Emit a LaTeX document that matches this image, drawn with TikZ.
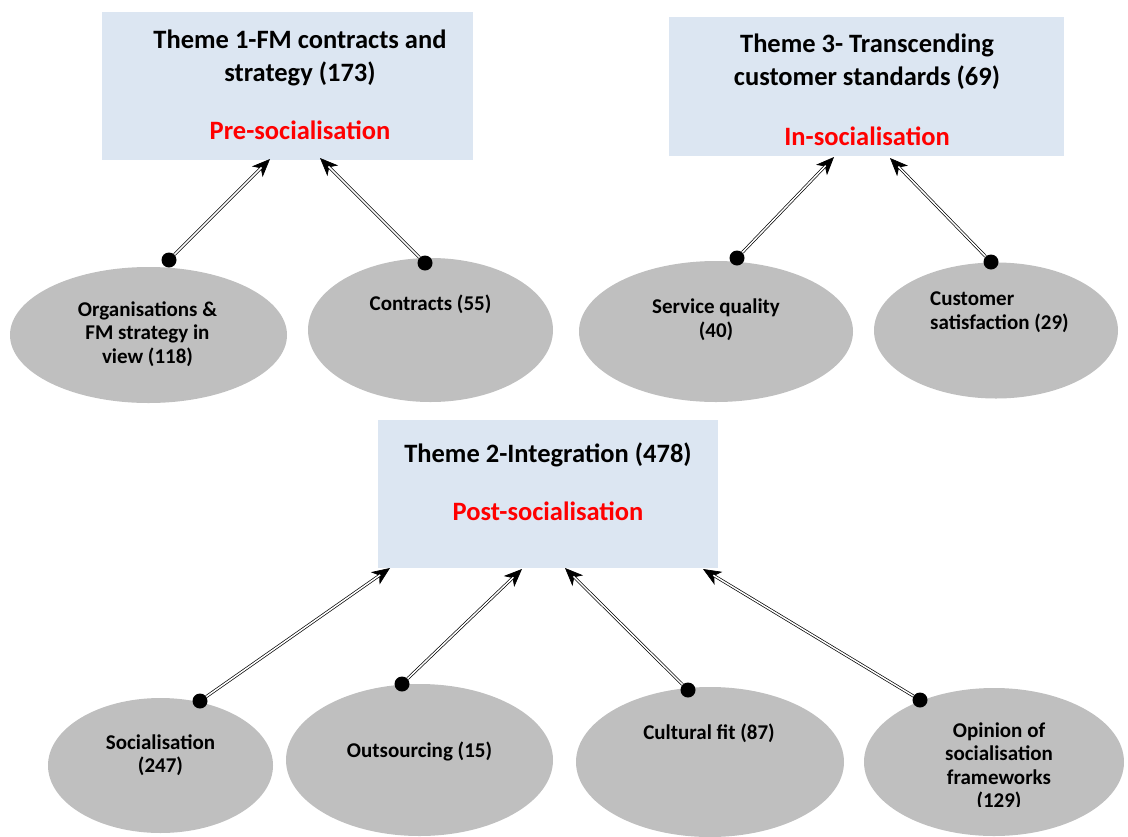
\documentclass[tikz,border=0pt]{standalone}
\usepackage{fontspec}
\setmainfont{Carlito}
\usetikzlibrary{arrows.meta,shapes.geometric}
\definecolor{themefill}{HTML}{DCE6F2}
\definecolor{subfill}{HTML}{BFBFBF}
\definecolor{phasered}{HTML}{FF0000}
\begin{document}
\begin{tikzpicture}[x=1pt,y=-1pt,
  themebox/.style={rectangle, fill=themefill, draw=none, inner sep=0pt},
  subtheme/.style={ellipse, fill=subfill, draw=none, inner sep=0pt},
  % multi-line texts are placed by the baseline of their last line
  themetext/.style={anchor=base, inner sep=0pt, align=center,
    font=\fontsize{26.5}{33}\selectfont\bfseries},
  phasetext/.style={themetext, text=phasered},
  subtext/.style={anchor=base, inner sep=0pt, align=center,
    font=\fontsize{21}{23.5}\selectfont\bfseries},
  dotnode/.style={circle, fill=black, minimum size=15pt, inner sep=0pt},
  % solid arrow head underneath, hollow double shaft on top
  linktip/.style={draw=black, line width=0.7pt,
    -{Stealth[length=18pt, width=15pt, inset=5pt]}},
  link/.style={draw=black, line width=0.7pt, double=white, double distance=1.5pt,
    shorten >=12pt}]
\useasboundingbox (0,0) rectangle (1128,836);
\clip (0,0) rectangle (1128,836);

% theme boxes
\node[themebox, minimum width=371pt, minimum height=148pt] (th1) at (287.5,86) {};
\node[themebox, minimum width=395pt, minimum height=139pt] (th3) at (866.5,86.5) {};
\node[themebox, minimum width=340pt, minimum height=148pt] (th2) at (548,494) {};

\node[themetext] (th1t) at (300,81.5) {Theme 1-FM contracts and\\strategy (173)};
\node[phasetext] (th1p) at (300,139.5) {Pre-socialisation};
\node[themetext] (th3t) at (867,85.5) {Theme 3- Transcending\\customer standards (69)};
\node[phasetext] (th3p) at (867,145.5) {In-socialisation};
\node[themetext] (th2t) at (548,462) {Theme 2-Integration (478)};
\node[phasetext] (th2p) at (548,520) {Post-socialisation};

% sub-theme ellipses
\node[subtheme, minimum width=277pt, minimum height=136pt] (s1) at (148.5,335) {};
\node[subtheme, minimum width=245pt, minimum height=144pt] (s2) at (430.5,330) {};
\node[subtheme, minimum width=274pt, minimum height=141pt] (s3) at (716,331.5) {};
\node[subtheme, minimum width=244pt, minimum height=136pt] (s4) at (996,330.5) {};
\node[subtheme, minimum width=225pt, minimum height=135pt] (s5) at (160.5,765.5) {};
\node[subtheme, minimum width=267pt, minimum height=152pt] (s6) at (419.5,760) {};
\node[subtheme, minimum width=268pt, minimum height=150pt] (s7) at (710,762) {};
\node[subtheme, minimum width=260pt, minimum height=148pt] (s8) at (994,762) {};

\node[subtext] (s1t) at (147.5,363) {Organisations \&\\FM strategy in\\view (118)};
\node[subtext] (s2t) at (430.5,310) {Contracts (55)};
\node[subtext] (s3t) at (716,337) {Service quality\\(40)};
\node[subtext, align=left, anchor=base west] (s4t) at (930,329) {Customer\\satisfaction (29)};
\node[subtext] (s5t) at (160.5,772.5) {Socialisation\\(247)};
\node[subtext] (s6t) at (419.5,757) {Outsourcing (15)};
\node[subtext] (s7t) at (709,739) {Cultural fit (87)};
\begin{scope}
  \clip (860,700) rectangle (1128,806);
  \node[subtext] (s8t) at (999,807.5) {Opinion of\\socialisation\\frameworks\\(129)};
\end{scope}

% attachment dots
\node[dotnode] (d1) at (169,260) {};
\node[dotnode] (d2) at (425,263) {};
\node[dotnode] (d3) at (737,258) {};
\node[dotnode] (d4) at (991,262) {};
\node[dotnode] (d5) at (200,701) {};
\node[dotnode] (d6) at (402,684) {};
\node[dotnode] (d7) at (688,690) {};
\node[dotnode] (d8) at (920,700) {};

% arrow tips on the theme boxes
\coordinate (a1) at (270,159);
\coordinate (a2) at (320,158);
\coordinate (a3) at (834,157);
\coordinate (a4) at (890,158);
\coordinate (a5) at (390,568);
\coordinate (a6) at (522,569);
\coordinate (a7) at (565,568);
\coordinate (a8) at (703,569);

\foreach \i in {1,...,8} {
  \draw[linktip] (d\i) -- (a\i);
  \draw[link] (d\i) -- (a\i);
}
\end{tikzpicture}
\end{document}
